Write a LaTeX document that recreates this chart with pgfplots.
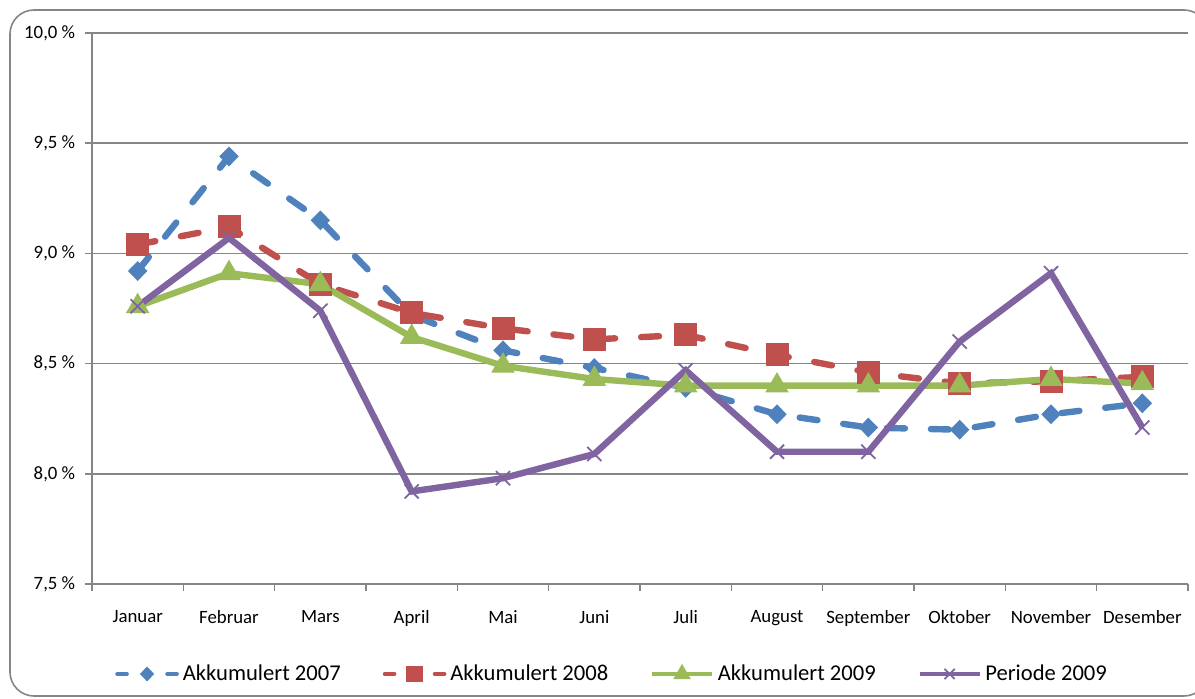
\documentclass[border=0pt]{standalone}
\usepackage{fontspec}
\setmainfont{Carlito}
\usepackage{pgfplots}
\pgfplotsset{compat=1.18}
\definecolor{cA}{HTML}{4F81BD}
\definecolor{cB}{HTML}{C0504D}
\definecolor{cC}{HTML}{9BBB59}
\definecolor{cD}{HTML}{8064A2}
\definecolor{gridc}{HTML}{868686}
\begin{document}
\begin{tikzpicture}
\useasboundingbox (0bp,0bp) rectangle (597.5bp,349.5bp);
\draw[color=gridc, line width=0.8bp, rounded corners=12bp] (5bp,1.5bp) rectangle (604bp,344.5bp);
\begin{axis}[
  at={(46bp,57.5bp)}, anchor=south west,
  scale only axis, width=548bp, height=275.5bp,
  xmin=-0.5, xmax=11.5, ymin=7.5, ymax=10,
  axis lines=left, axis line style={-, color=gridc, line width=0.8bp},
  xtick={0,...,11},
  xticklabels={Januar,Februar,Mars,April,Mai,Juni,Juli,August,September,Oktober,November,Desember},
  major x tick style={draw=none},
  minor xtick={-0.5,0.5,...,11.5},
  minor x tick style={color=gridc, line width=0.8bp},
  minor tick length=3.5bp,
  major tick length=3.5bp,
  tick align=outside,
  ytick={7.5,8,8.5,9,9.5,10},
  yticklabels={{7,5 \%},{8,0 \%},{8,5 \%},{9,0 \%},{9,5 \%},{10,0 \%}},
  y tick style={color=gridc, line width=0.8bp},
  ymajorgrids, major grid style={color=gridc, line width=0.8bp},
  ticklabel style={font=\fontsize{9.4bp}{11bp}\selectfont},
  xticklabel style={yshift=-5bp},
  yticklabel style={xshift=0bp},
  legend columns=4,
  legend style={draw=none, fill=none, at={(0.4754,-0.1633)}, anchor=center,
    font=\fontsize{11.3bp}{13bp}\selectfont,
    /tikz/every odd column/.append style={column sep=0bp},
    /tikz/every even column/.append style={column sep=19bp}},
  legend cell align=left,
  legend image code/.code={\draw[mark repeat=2,mark phase=2,#1, line width=1.8bp, every mark/.append style={scale=0.72}] plot coordinates {(0bp,0bp) (15bp,0bp) (30bp,0bp)};},
  line width=3.2bp,
  clip=false,
]
\addplot[color=cA, dash pattern=on 9bp off 13bp, line cap=round, mark=diamond*, mark size=4.6bp, mark options={solid, xscale=1.3, line width=0.5bp}, legend image post style={dash pattern=on 5bp off 20bp}]
  coordinates {(0,8.92) (1,9.44) (2,9.15) (3,8.72) (4,8.56) (5,8.48) (6,8.39) (7,8.27) (8,8.21) (9,8.20) (10,8.27) (11,8.32)};
\addlegendentry{Akkumulert 2007}
\addplot[color=cB, dash pattern=on 9bp off 13bp, line cap=round, mark=square*, mark size=5.5bp, mark options={solid, line width=0.5bp}, legend image post style={dash pattern=on 5bp off 20bp}]
  coordinates {(0,9.04) (1,9.12) (2,8.86) (3,8.73) (4,8.66) (5,8.61) (6,8.63) (7,8.54) (8,8.46) (9,8.41) (10,8.42) (11,8.44)};
\addlegendentry{Akkumulert 2008}
\addplot[color=cC, solid, mark=triangle*, mark size=6.3bp, mark options={solid, line width=0.5bp}]
  coordinates {(0,8.76) (1,8.91) (2,8.86) (3,8.62) (4,8.49) (5,8.43) (6,8.40) (7,8.40) (8,8.40) (9,8.40) (10,8.43) (11,8.41)};
\addlegendentry{Akkumulert 2009}
\addplot[color=cD, solid, mark=x, mark size=5bp, mark options={solid, line width=0.9bp}]
  coordinates {(0,8.76) (1,9.07) (2,8.74) (3,7.92) (4,7.98) (5,8.09) (6,8.47) (7,8.10) (8,8.10) (9,8.60) (10,8.91) (11,8.21)};
\addlegendentry{Periode 2009}
\end{axis}
\end{tikzpicture}
\end{document}
